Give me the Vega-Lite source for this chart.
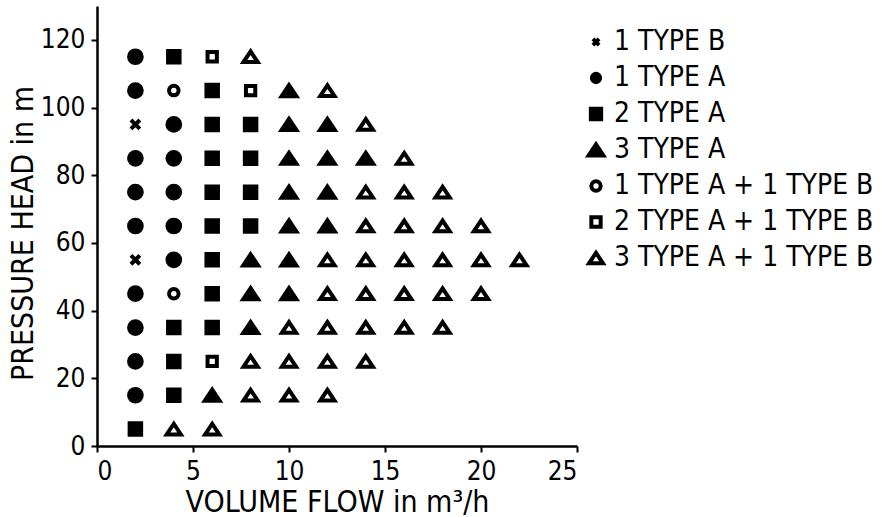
{
  "$schema": "https://vega.github.io/schema/vega-lite/v6.json",
  "width": 480,
  "height": 440,
  "autosize": {"type": "none"},
  "padding": {"left": 97, "top": 6, "right": 310, "bottom": 71},
  "background": "white",
  "config": {
    "font": "DejaVu Sans Condensed, DejaVu Sans",
    "view": {"stroke": null},
    "axis": {
      "grid": false,
      "domainColor": "black",
      "domainWidth": 2.5,
      "tickColor": "black",
      "tickWidth": 2,
      "tickSize": 6,
      "labelColor": "black",
      "labelFontSize": 26,
      "labelPadding": 6,
      "titleColor": "black",
      "titleFontSize": 30,
      "titleFontWeight": "normal"
    },
    "legend": {"symbolSize": 120, "symbolStrokeWidth": 4}
  },
  "data": {
    "values": [
      {"flow": 2, "head": 115, "config": "1 TYPE A"},
      {"flow": 4, "head": 115, "config": "2 TYPE A"},
      {"flow": 6, "head": 115, "config": "2 TYPE A + 1 TYPE B"},
      {"flow": 8, "head": 115, "config": "3 TYPE A + 1 TYPE B"},
      {"flow": 2, "head": 105, "config": "1 TYPE A"},
      {"flow": 4, "head": 105, "config": "1 TYPE A + 1 TYPE B"},
      {"flow": 6, "head": 105, "config": "2 TYPE A"},
      {"flow": 8, "head": 105, "config": "2 TYPE A + 1 TYPE B"},
      {"flow": 10, "head": 105, "config": "3 TYPE A"},
      {"flow": 12, "head": 105, "config": "3 TYPE A + 1 TYPE B"},
      {"flow": 2, "head": 95, "config": "1 TYPE B"},
      {"flow": 4, "head": 95, "config": "1 TYPE A"},
      {"flow": 6, "head": 95, "config": "2 TYPE A"},
      {"flow": 8, "head": 95, "config": "2 TYPE A"},
      {"flow": 10, "head": 95, "config": "3 TYPE A"},
      {"flow": 12, "head": 95, "config": "3 TYPE A"},
      {"flow": 14, "head": 95, "config": "3 TYPE A + 1 TYPE B"},
      {"flow": 2, "head": 85, "config": "1 TYPE A"},
      {"flow": 4, "head": 85, "config": "1 TYPE A"},
      {"flow": 6, "head": 85, "config": "2 TYPE A"},
      {"flow": 8, "head": 85, "config": "2 TYPE A"},
      {"flow": 10, "head": 85, "config": "3 TYPE A"},
      {"flow": 12, "head": 85, "config": "3 TYPE A"},
      {"flow": 14, "head": 85, "config": "3 TYPE A"},
      {"flow": 16, "head": 85, "config": "3 TYPE A + 1 TYPE B"},
      {"flow": 2, "head": 75, "config": "1 TYPE A"},
      {"flow": 4, "head": 75, "config": "1 TYPE A"},
      {"flow": 6, "head": 75, "config": "2 TYPE A"},
      {"flow": 8, "head": 75, "config": "2 TYPE A"},
      {"flow": 10, "head": 75, "config": "3 TYPE A"},
      {"flow": 12, "head": 75, "config": "3 TYPE A"},
      {"flow": 14, "head": 75, "config": "3 TYPE A + 1 TYPE B"},
      {"flow": 16, "head": 75, "config": "3 TYPE A + 1 TYPE B"},
      {"flow": 18, "head": 75, "config": "3 TYPE A + 1 TYPE B"},
      {"flow": 2, "head": 65, "config": "1 TYPE A"},
      {"flow": 4, "head": 65, "config": "1 TYPE A"},
      {"flow": 6, "head": 65, "config": "2 TYPE A"},
      {"flow": 8, "head": 65, "config": "2 TYPE A"},
      {"flow": 10, "head": 65, "config": "3 TYPE A"},
      {"flow": 12, "head": 65, "config": "3 TYPE A"},
      {"flow": 14, "head": 65, "config": "3 TYPE A + 1 TYPE B"},
      {"flow": 16, "head": 65, "config": "3 TYPE A + 1 TYPE B"},
      {"flow": 18, "head": 65, "config": "3 TYPE A + 1 TYPE B"},
      {"flow": 20, "head": 65, "config": "3 TYPE A + 1 TYPE B"},
      {"flow": 2, "head": 55, "config": "1 TYPE B"},
      {"flow": 4, "head": 55, "config": "1 TYPE A"},
      {"flow": 6, "head": 55, "config": "2 TYPE A"},
      {"flow": 8, "head": 55, "config": "3 TYPE A"},
      {"flow": 10, "head": 55, "config": "3 TYPE A"},
      {"flow": 12, "head": 55, "config": "3 TYPE A + 1 TYPE B"},
      {"flow": 14, "head": 55, "config": "3 TYPE A + 1 TYPE B"},
      {"flow": 16, "head": 55, "config": "3 TYPE A + 1 TYPE B"},
      {"flow": 18, "head": 55, "config": "3 TYPE A + 1 TYPE B"},
      {"flow": 20, "head": 55, "config": "3 TYPE A + 1 TYPE B"},
      {"flow": 22, "head": 55, "config": "3 TYPE A + 1 TYPE B"},
      {"flow": 2, "head": 45, "config": "1 TYPE A"},
      {"flow": 4, "head": 45, "config": "1 TYPE A + 1 TYPE B"},
      {"flow": 6, "head": 45, "config": "2 TYPE A"},
      {"flow": 8, "head": 45, "config": "3 TYPE A"},
      {"flow": 10, "head": 45, "config": "3 TYPE A"},
      {"flow": 12, "head": 45, "config": "3 TYPE A + 1 TYPE B"},
      {"flow": 14, "head": 45, "config": "3 TYPE A + 1 TYPE B"},
      {"flow": 16, "head": 45, "config": "3 TYPE A + 1 TYPE B"},
      {"flow": 18, "head": 45, "config": "3 TYPE A + 1 TYPE B"},
      {"flow": 20, "head": 45, "config": "3 TYPE A + 1 TYPE B"},
      {"flow": 2, "head": 35, "config": "1 TYPE A"},
      {"flow": 4, "head": 35, "config": "2 TYPE A"},
      {"flow": 6, "head": 35, "config": "2 TYPE A"},
      {"flow": 8, "head": 35, "config": "3 TYPE A"},
      {"flow": 10, "head": 35, "config": "3 TYPE A + 1 TYPE B"},
      {"flow": 12, "head": 35, "config": "3 TYPE A + 1 TYPE B"},
      {"flow": 14, "head": 35, "config": "3 TYPE A + 1 TYPE B"},
      {"flow": 16, "head": 35, "config": "3 TYPE A + 1 TYPE B"},
      {"flow": 18, "head": 35, "config": "3 TYPE A + 1 TYPE B"},
      {"flow": 2, "head": 25, "config": "1 TYPE A"},
      {"flow": 4, "head": 25, "config": "2 TYPE A"},
      {"flow": 6, "head": 25, "config": "2 TYPE A + 1 TYPE B"},
      {"flow": 8, "head": 25, "config": "3 TYPE A + 1 TYPE B"},
      {"flow": 10, "head": 25, "config": "3 TYPE A + 1 TYPE B"},
      {"flow": 12, "head": 25, "config": "3 TYPE A + 1 TYPE B"},
      {"flow": 14, "head": 25, "config": "3 TYPE A + 1 TYPE B"},
      {"flow": 2, "head": 15, "config": "1 TYPE A"},
      {"flow": 4, "head": 15, "config": "2 TYPE A"},
      {"flow": 6, "head": 15, "config": "3 TYPE A"},
      {"flow": 8, "head": 15, "config": "3 TYPE A + 1 TYPE B"},
      {"flow": 10, "head": 15, "config": "3 TYPE A + 1 TYPE B"},
      {"flow": 12, "head": 15, "config": "3 TYPE A + 1 TYPE B"},
      {"flow": 2, "head": 5, "config": "2 TYPE A"},
      {"flow": 4, "head": 5, "config": "3 TYPE A + 1 TYPE B"},
      {"flow": 6, "head": 5, "config": "3 TYPE A + 1 TYPE B"}
    ]
  },
  "mark": {"type": "point", "filled": true, "stroke": "black", "strokeWidth": 4, "strokeJoin": "miter", "opacity": 1},
  "encoding": {
    "x": {
      "field": "flow", "type": "quantitative",
      "scale": {"domain": [0, 25], "nice": false},
      "axis": {"values": [0, 5, 10, 15, 20, 25], "title": "VOLUME FLOW in m³/h", "titleBaseline": "alphabetic", "titleY": 65}
    },
    "y": {
      "field": "head", "type": "quantitative",
      "scale": {"domain": [0, 130], "nice": false},
      "axis": {"values": [0, 20, 40, 60, 80, 100, 120], "title": "PRESSURE HEAD in m", "titleBaseline": "alphabetic", "titleX": -65, "titleY": 227, "titleAngle": -90, "titleAlign": "center"}
    },
    "shape": {
      "field": "config", "type": "nominal",
      "scale": {
        "domain": ["1 TYPE B", "1 TYPE A", "2 TYPE A", "3 TYPE A", "1 TYPE A + 1 TYPE B", "2 TYPE A + 1 TYPE B", "3 TYPE A + 1 TYPE B"],
        "range": [
          "M-0.56,-0.56L0.56,0.56M-0.56,0.56L0.56,-0.56",
          "M0.76,0A0.76,0.76,0,1,1,-0.76,0A0.76,0.76,0,1,1,0.76,0Z",
          "M-0.94,-0.94L0.94,-0.94L0.94,0.94L-0.94,0.94Z",
          "M0,-1.01L1.35,1.01L-1.35,1.01Z",
          "M0.85,0A0.85,0.85,0,1,1,-0.85,0A0.85,0.85,0,1,1,0.85,0Z",
          "M-0.85,-0.85L0.85,-0.85L0.85,0.85L-0.85,0.85Z",
          "M0,-0.945L1.26,0.945L-1.26,0.945Z"
        ]
      },
      "legend": {
        "title": null,
        "orient": "none",
        "legendX": 485,
        "legendY": 22,
        "padding": 0,
        "labelFontSize": 28,
        "labelLimit": 400,
        "labelColor": "black",
        "labelOffset": 4,
        "rowPadding": 8
      }
    },
    "fill": {
      "field": "config", "type": "nominal",
      "scale": {
        "domain": ["1 TYPE B", "1 TYPE A", "2 TYPE A", "3 TYPE A", "1 TYPE A + 1 TYPE B", "2 TYPE A + 1 TYPE B", "3 TYPE A + 1 TYPE B"],
        "range": ["black", "black", "black", "black", "white", "white", "white"]
      },
      "legend": {
        "title": null,
        "orient": "none",
        "legendX": 485,
        "legendY": 22,
        "padding": 0,
        "labelFontSize": 28,
        "labelLimit": 400,
        "labelColor": "black",
        "labelOffset": 4,
        "rowPadding": 8
      }
    },
    "size": {
      "condition": [
        {"test": "datum.config === '1 TYPE B'", "value": 250},
        {"test": "datum.config === '1 TYPE A'", "value": 279},
        {"test": "datum.config === '2 TYPE A'", "value": 150},
        {"test": "datum.config === '3 TYPE A'", "value": 120},
        {"test": "datum.config === '1 TYPE A + 1 TYPE B'", "value": 125},
        {"test": "datum.config === '2 TYPE A + 1 TYPE B'", "value": 120}
      ],
      "value": 127
    }
  }
}
